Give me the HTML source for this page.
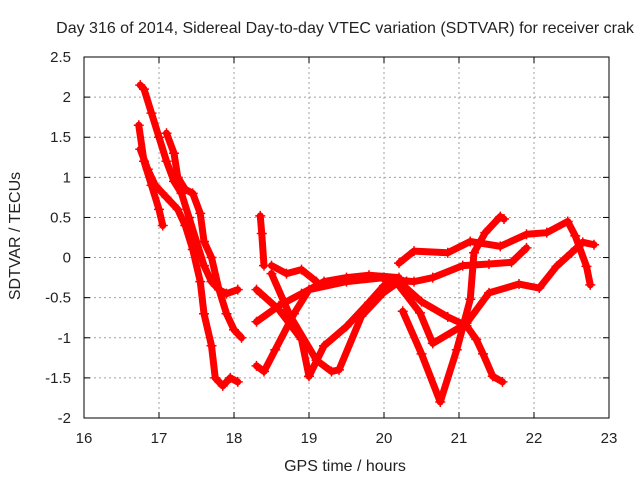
<!DOCTYPE html>
<html><head><meta charset="utf-8"><style>
body{margin:0;background:#fff;width:640px;height:480px;overflow:hidden}
svg text{font-family:"Liberation Sans",sans-serif;font-size:15px;fill:#222}
</style></head><body>
<svg id="c" width="640" height="480">
<text x="345" y="33" text-anchor="middle" style="font-size:16px">Day 316 of 2014, Sidereal Day-to-day VTEC variation (SDTVAR) for receiver crak</text>
<text x="345" y="471" text-anchor="middle" style="font-size:16px">GPS time / hours</text>
<text x="0" y="0" transform="translate(20,236) rotate(-90)" text-anchor="middle" style="font-size:16px">SDTVAR / TECUs</text>
<g id="grid"></g><g id="marks"></g>
<rect x="84" y="57" width="525" height="361" fill="none" stroke="#000" stroke-width="1"/>
</svg>
<script>
const xTicks=[16,17,18,19,20,21,22,23];
const yTicks=[-2,-1.5,-1,-0.5,0,0.5,1,1.5,2,2.5];
const yLabels=["-2","-1.5","-1","-0.5","0","0.5","1","1.5","2","2.5"];
const s1h=[16.75,16.8,16.9,17.0,17.1,17.2,17.3,17.4,17.5,17.6,17.7,17.8,17.9,18.05];
const s1v=[2.15,2.1,1.8,1.5,1.2,0.95,0.8,0.5,0.2,-0.1,-0.3,-0.4,-0.45,-0.4];
const s2h=[16.73,16.8,16.9,17.0,17.05];
const s2v=[1.65,1.2,0.9,0.6,0.4];
const s3h=[16.75,16.85,16.95,17.1,17.25,17.35,17.45,17.55,17.6,17.7,17.75,17.85,17.95,18.05];
const s3v=[1.35,1.1,0.9,0.75,0.6,0.4,0.1,-0.3,-0.7,-1.1,-1.5,-1.6,-1.5,-1.55];
const s4h=[17.1,17.2,17.25,17.35,17.45,17.55,17.6,17.7,17.8,17.9,18.0,18.1];
const s4v=[1.55,1.3,1.0,0.85,0.8,0.55,0.2,0.0,-0.4,-0.7,-0.9,-1.0];
const s5h=[18.35,18.37,18.4];
const s5v=[0.52,0.3,-0.1];
const s6h=[18.3,18.6,18.9,19.0,19.2,19.5,19.8,20.0,20.3];
const s6v=[-0.4,-0.65,-1.02,-1.48,-1.1,-0.86,-0.56,-0.35,-0.3];
const s7h=[18.5,18.75,19.1,19.3,19.4,19.7,19.99,20.2];
const s7v=[-0.2,-0.73,-1.28,-1.42,-1.4,-0.73,-0.44,-0.3];
const s8h=[18.3,18.4,18.55,18.8,19.0,19.5,20.0,20.3];
const s8v=[-1.35,-1.42,-1.15,-0.7,-0.4,-0.3,-0.25,-0.3];
const s9h=[18.3,18.6,18.9,19.2,19.5,19.8,20.2];
const s9v=[-0.8,-0.6,-0.45,-0.3,-0.25,-0.22,-0.25];
const s10h=[18.5,18.7,18.9,19.1];
const s10v=[-0.1,-0.2,-0.15,-0.3];
const s11h=[20.2,20.4,20.85,21.15,21.55,21.9,22.17,22.45,22.55,22.7,22.75];
const s11v=[-0.07,0.08,0.06,0.2,0.14,0.29,0.31,0.45,0.27,-0.11,-0.34];
const s12h=[20.0,20.4,20.65,21.05,21.4,21.7,21.9];
const s12v=[-0.27,-0.3,-0.25,-0.1,-0.08,-0.06,0.12];
const s13h=[20.25,20.5,20.75,20.97,21.15,21.2,21.35,21.55,21.6];
const s13v=[-0.67,-1.2,-1.8,-1.15,-0.52,0.06,0.31,0.51,0.48];
const s14h=[20.2,20.48,20.65,21.1,21.4,21.8,22.07,22.3,22.5,22.65,22.8];
const s14v=[-0.35,-0.69,-1.07,-0.82,-0.44,-0.33,-0.38,-0.11,0.06,0.19,0.16];
const s15h=[20.2,20.5,20.85,21.1,21.23,21.32,21.45,21.58];
const s15v=[-0.3,-0.55,-0.74,-0.85,-1.02,-1.2,-1.48,-1.55];
const seriesH=[s1h,s2h,s3h,s4h,s5h,s6h,s7h,s8h,s9h,s10h,s11h,s12h,s13h,s14h,s15h];
const seriesV=[s1v,s2v,s3v,s4v,s5v,s6v,s7v,s8v,s9v,s10v,s11v,s12v,s13v,s14v,s15v];
const X=h=>84+(h-16)*75;
const Y=v=>418-(v+2)*(361/4.5);
const NS='http://www.w3.org/2000/svg';
const grid=document.getElementById('grid'),marks=document.getElementById('marks');
function mk(t,a,p){const e=document.createElementNS(NS,t);for(const k in a)e.setAttribute(k,a[k]);p.appendChild(e);return e;}
xTicks.forEach((t,i)=>{
  if(i>0&&i<xTicks.length-1){const g=mk('line',{x1:X(t),x2:X(t),y1:57,y2:418,stroke:'#a0a0a0','stroke-dasharray':'2,3'},grid);
  
  }
  mk('line',{x1:X(t),x2:X(t),y1:418,y2:412,stroke:'#000'},grid);
  mk('line',{x1:X(t),x2:X(t),y1:57,y2:63,stroke:'#000'},grid);
  const l=mk('text',{x:X(t),y:443,'text-anchor':'middle'},grid);l.textContent=t;
  
  
});
yTicks.forEach((t,i)=>{
  if(i>0&&i<yTicks.length-1){const g=mk('line',{x1:84,x2:609,y1:Y(t),y2:Y(t),stroke:'#a0a0a0','stroke-dasharray':'2,3'},grid);
  
  }
  mk('line',{x1:84,x2:90,y1:Y(t),y2:Y(t),stroke:'#000'},grid);
  mk('line',{x1:603,x2:609,y1:Y(t),y2:Y(t),stroke:'#000'},grid);
  const l=mk('text',{x:71,y:Y(t)+5,'text-anchor':'end'},grid);l.textContent=yLabels[i];
  
  
});
seriesH.forEach((hs,si)=>{
  const vs=seriesV[si];
  const g=mk('g',{},marks);
  
  
  const pts=hs.map((h,i)=>X(h)+','+Y(vs[i])).join(' ');
  mk('polyline',{points:pts,fill:'none',stroke:'#f00','stroke-width':7,'stroke-linejoin':'round','stroke-linecap':'round'},g);
  hs.forEach((h,i)=>{
    const x=X(h),y=Y(vs[i]);
    const p=mk('path',{d:`M${x-5},${y}H${x+5}M${x},${y-5}V${y+5}`,stroke:'#f00','stroke-width':1.5},g);
    
    
  });
});
</script>
</body></html>
